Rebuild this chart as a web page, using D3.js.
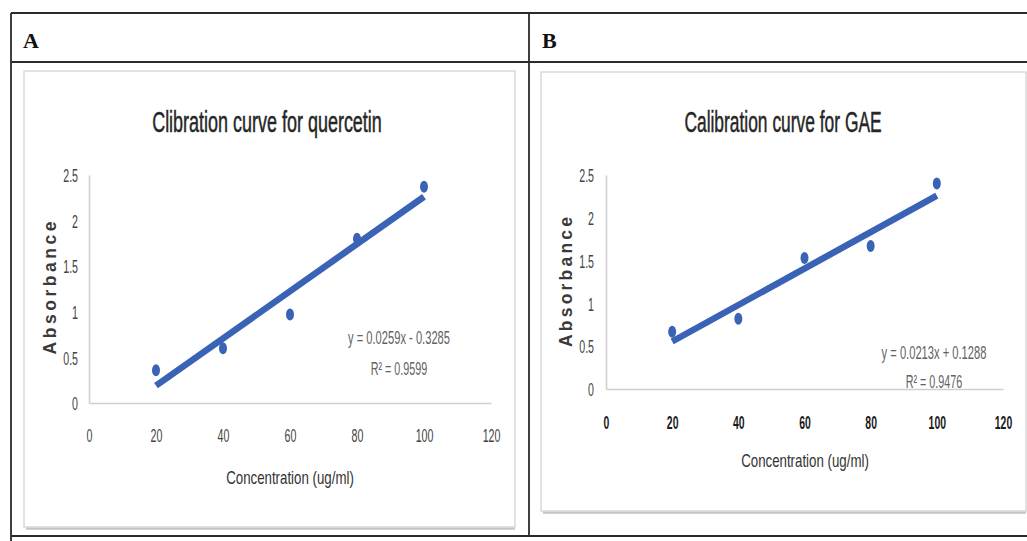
<!DOCTYPE html>
<html><head><meta charset="utf-8">
<script src="https://cdn.jsdelivr.net/npm/d3@7"></script>
<style>body{margin:0;background:#fff}svg{display:block}</style>
</head><body>
<svg id="c" width="1027" height="541"></svg>
<script>
// ---- data ----
const concentrations = [20, 40, 60, 80, 100];
const absorbanceQuercetin = [0.36, 0.60, 0.97, 1.80, 2.37];
const absorbanceGAE = [0.67, 0.82, 1.53, 1.67, 2.40];
const trendQuercetin = [0.0259, -0.3285];   // slope, intercept
const trendGAE = [0.0213, 0.1288];
const r2Values = [0.9599, 0.9476];
const xTickValues = [0, 20, 40, 60, 80, 100, 120];
const yTickValues = [0, 0.5, 1, 1.5, 2, 2.5];
const panelLetters = ["A", "B"];
const chartTitles = ["Clibration curve for quercetin", "Calibration curve for GAE"];
const equationTexts = ["y = 0.0259x - 0.3285", "y = 0.0213x + 0.1288"];
const xAxisTitle = "Concentration (ug/ml)";
const yAxisTitle = "Absorbance";

const svg = d3.select("#c");
svg.append("rect").attr("width", 1027).attr("height", 541).attr("fill", "#fff");

const BLUE = "#3a63b6";
const COND = "'Liberation Sans','Noto Sans',sans-serif";

// ---- table frame ----
const frame = svg.append("g").attr("stroke", "#2b2b2b").attr("stroke-width", 1.8);
frame.append("line").attr("x1", 11).attr("x2", 1027).attr("y1", 13).attr("y2", 13);
frame.append("line").attr("x1", 11).attr("x2", 1027).attr("y1", 62).attr("y2", 62);
frame.append("line").attr("x1", 11).attr("x2", 1027).attr("y1", 536).attr("y2", 536);
frame.append("line").attr("x1", 11).attr("x2", 11).attr("y1", 13).attr("y2", 541);
frame.append("line").attr("x1", 529).attr("x2", 529).attr("y1", 13).attr("y2", 536);

const panels = [
  {letterX: 23, box: [24, 71, 515, 527], xr: [89, 491], yr: [403, 175],
   titleX: 267, titleS: 0.62, xTitleY: 484, xTitleX: 290,
   yTitle: [51, 288, 133], eq: [399, 344], r2: [399, 375],
   ys: absorbanceQuercetin, trend: trendQuercetin, r2v: r2Values[0], boldX: false,
   xLabOff: 32, yLabGap: 11},
  {letterX: 542, box: [541, 72, 1026, 511], xr: [606, 1003], yr: [389, 175],
   titleX: 783, titleS: 0.60, xTitleY: 467, xTitleX: 805,
   yTitle: [567, 282, 130], eq: [934, 359], r2: [934, 388],
   ys: absorbanceGAE, trend: trendGAE, r2v: r2Values[1], boldX: true,
   xLabOff: 33, yLabGap: 12}
];

// condensed text helper: scales glyphs horizontally about its anchor point
function condText(g, x, y, str, size, s, fill) {
  return g.append("text")
    .attr("transform", `translate(${x},${y}) scale(${s},1)`)
    .attr("text-anchor", "middle")
    .attr("font-family", COND).attr("font-size", size).attr("fill", fill)
    .text(str);
}

panels.forEach((p, i) => {
  const g = svg.append("g");
  // panel letter
  g.append("text").attr("x", p.letterX).attr("y", 48)
    .attr("font-family", "'Liberation Serif','DejaVu Serif',serif")
    .attr("font-weight", "bold").attr("font-size", 22).attr("fill", "#111")
    .text(panelLetters[i]);
  // chart area box with shadow
  const [bx0, by0, bx1, by1] = p.box;
  g.append("line").attr("x1", bx0 + 2).attr("x2", bx1).attr("y1", by1 + 1.5).attr("y2", by1 + 1.5)
    .attr("stroke", "#c4c4c4").attr("stroke-width", 2.5);
  g.append("rect").attr("x", bx0).attr("y", by0).attr("width", bx1 - bx0).attr("height", by1 - by0)
    .attr("fill", "#fff").attr("stroke", "#d9d9d9").attr("stroke-width", 1.5);

  // title
  condText(g, p.titleX, 132, chartTitles[i], 29, p.titleS, "#262626")
    .attr("stroke", "#262626").attr("stroke-width", 0.5);

  const x = d3.scaleLinear().domain([0, 120]).range(p.xr);
  const y = d3.scaleLinear().domain([0, 2.5]).range(p.yr);
  const sx = 0.56;

  // x axis
  const xa = g.append("g").attr("transform", `translate(0,${p.yr[0]})`)
    .call(d3.axisBottom(x).tickValues(xTickValues).tickSize(0).tickSizeOuter(0).tickFormat(d3.format("d")));
  xa.select(".domain").attr("stroke", "#cfcfcf").attr("stroke-width", 1.6);
  xa.selectAll("text").attr("y", p.xLabOff).attr("dy", "0.35em")
    .attr("font-family", COND).attr("font-size", 19)
    .attr("font-weight", p.boldX ? "bold" : "normal")
    .attr("fill", p.boldX ? "#1a1a1a" : "#444")
    .attr("transform", `scale(${p.boldX ? 0.55 : sx},1)`);

  // y axis
  const ya = g.append("g").attr("transform", `translate(${p.xr[0]},0)`)
    .call(d3.axisLeft(y).tickValues(yTickValues).tickSize(0).tickSizeOuter(0).tickFormat(d => d));
  ya.select(".domain").attr("stroke", "#cfcfcf").attr("stroke-width", 1.6);
  ya.selectAll("text").attr("x", -p.yLabGap / sx).attr("dy", "0.35em")
    .attr("font-family", COND).attr("font-size", 19).attr("fill", "#444")
    .attr("transform", `scale(${sx},1)`);

  // axis titles
  condText(g, p.xTitleX, p.xTitleY, xAxisTitle, 19, 0.70, "#333");
  const [tx, ty, tl] = p.yTitle;
  g.append("text").attr("transform", `translate(${tx + 5},${ty}) rotate(-90)`)
    .attr("text-anchor", "middle")
    .attr("font-family", "'Liberation Sans',Arial,sans-serif").attr("font-weight", "bold")
    .attr("font-size", 17.5).attr("fill", "#3a3a3a")
    .attr("textLength", tl).attr("lengthAdjust", "spacing")
    .text(yAxisTitle);

  // trendline
  const [m, b] = p.trend;
  const xr = d3.extent(concentrations);
  g.append("line")
    .attr("x1", x(xr[0])).attr("y1", y(m * xr[0] + b))
    .attr("x2", x(xr[1])).attr("y2", y(m * xr[1] + b))
    .attr("stroke", BLUE).attr("stroke-width", 6.5);

  // points
  g.selectAll("ellipse.pt").data(concentrations).join("ellipse")
    .attr("cx", d => x(d)).attr("cy", (d, j) => y(p.ys[j]))
    .attr("rx", 4).attr("ry", 6).attr("fill", BLUE);

  // equation + R2
  condText(g, p.eq[0], p.eq[1], equationTexts[i], 18, 0.62, "#636363");
  condText(g, p.r2[0], p.r2[1], "R\u00B2 = " + p.r2v, 18, 0.60, "#636363");
});
</script>
</body></html>
